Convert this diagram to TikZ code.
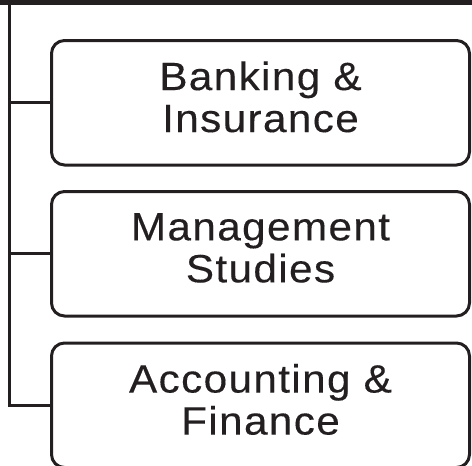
\documentclass[tikz,border=0pt]{standalone}
\usepackage{fontspec}
\newfontfamily\boxfont[LetterSpace=3.5, FakeStretch=1.07, FakeBold=0.25]{Liberation Sans}
\definecolor{ink}{RGB}{35,31,32}
\tikzset{
	catbox/.style={draw=ink, line width=3pt, rounded corners=13pt, minimum width=418pt, minimum height=124.5pt, text depth=12pt, align=center, text=ink, font=\boxfont\fontsize{39.5}{42}\selectfont},
	link/.style={draw=ink, line width=3pt}
}

\begin{document}
\begin{tikzpicture}[x=1pt, y=-1pt]
		%%%%% START %%%%%
		\useasboundingbox (0,0) rectangle (472,466);
		
		\fill[ink] (0,0) rectangle (472,4.7);
		\coordinate (spine) at (9.5,4);
		
		\node[catbox] (bank) at (260.5,102.75) {Banking \&\\Insurance};
		\node[catbox] (mgmt) at (260.5,253.75) {Management\\Studies};
		\node[catbox] (acct) at (260.5,405.25) {Accounting \&\\Finance};
		
		\draw[link] (spine) -- (spine |- acct.west) -- (acct.west);
		\draw[link] (spine |- bank.west) -- (bank.west);
		\draw[link] (spine |- mgmt.west) -- (mgmt.west);
		%%%%% END %%%%%
	\end{tikzpicture}
\end{document}
